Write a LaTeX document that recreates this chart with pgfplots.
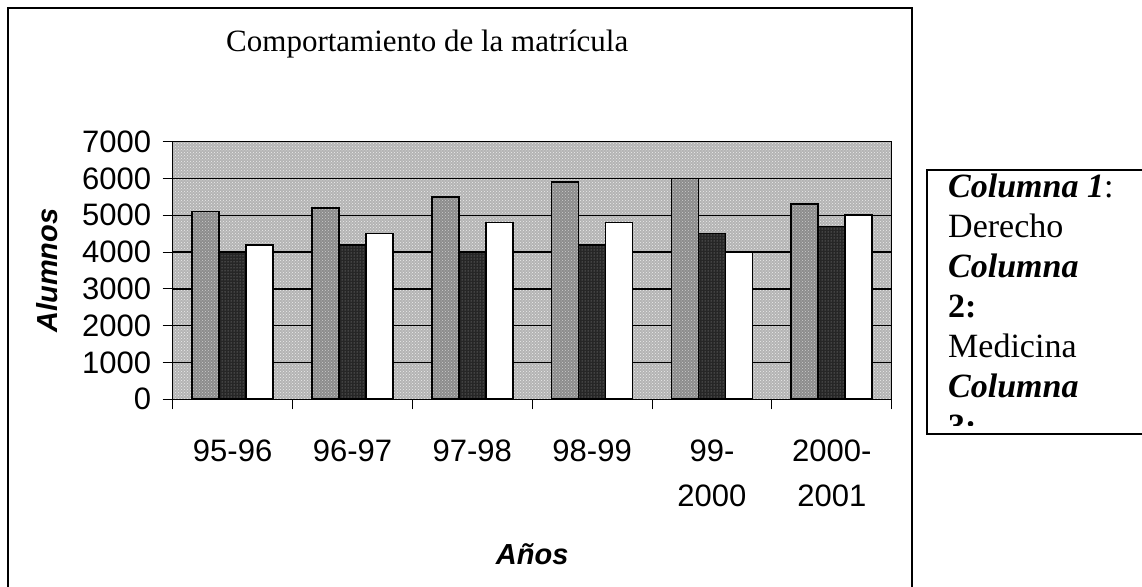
\documentclass[border=0pt]{standalone}
\usepackage{pgfplots}
\pgfplotsset{compat=1.18}
\usetikzlibrary{patterns}
\usepackage{fontspec}
\setmainfont{Liberation Serif}
\newfontfamily\arial{Liberation Sans}
\definecolor{plotbg}{RGB}{180,180,180}
\definecolor{serA}{RGB}{140,140,140}
\definecolor{serB}{RGB}{38,38,38}
\begin{document}
\begin{tikzpicture}[x=1pt,y=1pt]
\useasboundingbox (0,0) rectangle (1142,586);
\draw[line width=1.5pt] (8,578) rectangle (912,-20);
\begin{axis}[
  at={(172.7pt,186.7pt)}, anchor=south west,
  scale only axis, width=719pt, height=257.6pt,
  xmin=-0.5, xmax=5.5, ymin=0, ymax=7000,
  ybar=0pt, bar width=27pt,
  axis background/.style={fill=plotbg, postaction={pattern=crosshatch dots, pattern color=white!85!gray}},
  xtick={-0.5,0.5,1.5,2.5,3.5,4.5,5.5},
  x tick label as interval,
  xticklabels={95-96,96-97,97-98,98-99,{99-\\2000},{2000-\\2001}},
  ytick={0,1000,2000,3000,4000,5000,6000,7000},
  yticklabels={0,1000,2000,3000,4000,5000,6000,7000},
  tick pos=left, tick align=outside, major tick length=10pt,
  tick style={black, line width=1pt},
  ymajorgrids, grid style={black, line width=1.4pt},
  axis line style={black, line width=1pt},
  tick label style={font=\arial\fontsize{31}{45}\selectfont},
  xticklabel style={align=center, yshift=-27pt},
  yticklabel style={xshift=-8pt},
  title={Comportamiento de la matrícula},
  title style={at={(axis description cs:0.354,1.326)}, anchor=base, font=\fontsize{31}{36}\selectfont},
  xlabel={Años},
  xlabel style={at={(axis description cs:0.5,-0.6)}, anchor=center, font=\arial\bfseries\itshape\fontsize{29}{34}\selectfont},
  ylabel={Alumnos},
  ylabel style={at={(axis description cs:-0.175,0.5)}, anchor=center, font=\arial\bfseries\itshape\fontsize{29}{34}\selectfont},
  every axis plot/.append style={draw=black, line width=1.6pt},
]
\addplot[fill=serA, postaction={pattern=crosshatch dots, pattern color=gray!40}] coordinates {(0,5100) (1,5200) (2,5500) (3,5900) (4,6000) (5,5300)};
\addplot[fill=serB, postaction={pattern=dots, pattern color=gray!70}] coordinates {(0,4000) (1,4200) (2,4000) (3,4200) (4,4500) (5,4700)};
\addplot[fill=white] coordinates {(0,4200) (1,4500) (2,4800) (3,4800) (4,4000) (5,5000)};
\end{axis}
\draw[line width=1.5pt] (1150,416) -- (927,416) -- (927,152) -- (1150,152);
\begin{scope}
\clip (927,416) rectangle (1150,160);
\begin{scope}[every node/.style={anchor=base west, inner sep=0pt, font=\fontsize{34}{37}\selectfont}]
\node at (948,388) {\textbf{\textit{Columna 1}}:};
\node at (948,348) {Derecho};
\node at (948,308) {\textbf{\textit{Columna}}};
\node at (948,268) {\textbf{2:}};
\node at (948,228) {Medicina};
\node at (948,188) {\textbf{\textit{Columna}}};
\node at (948,148) {\textbf{3:}};
\end{scope}
\end{scope}
\end{tikzpicture}
\end{document}
